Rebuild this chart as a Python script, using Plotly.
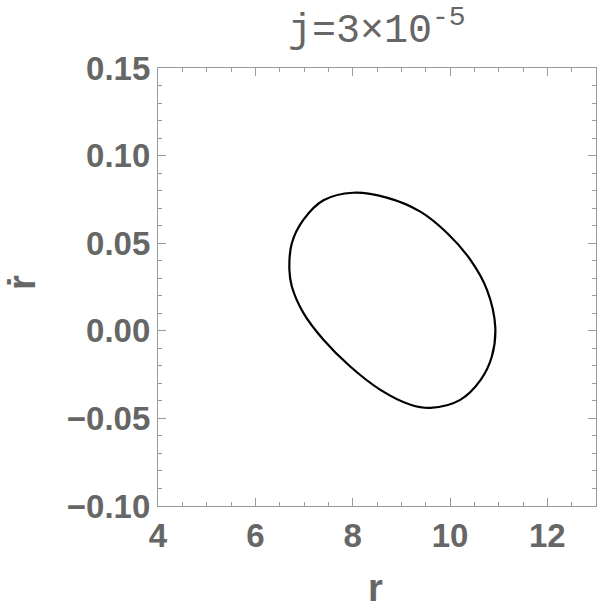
import plotly.graph_objects as go

# Orbit in phase space (r, r-dot)
r_vals = [8.01, 8.70, 9.39, 9.94, 10.42, 10.76, 10.93, 10.86, 10.63, 10.21, 9.60, 9.19,
          8.57, 7.95, 7.40, 6.99, 6.75, 6.70, 6.75, 6.99, 7.40, 8.01]
rdot_vals = [0.0788, 0.0760, 0.0680, 0.0558, 0.0405, 0.0234, 0.0023, -0.0147, -0.0280,
             -0.0394, -0.0440, -0.0422, -0.0337, -0.0204, -0.0051, 0.0101, 0.0253, 0.0348,
             0.0500, 0.0634, 0.0745, 0.0788]

x_ticks = [4, 6, 8, 10, 12]
x_tick_labels = ["4", "6", "8", "10", "12"]
y_ticks = [-0.10, -0.05, 0.00, 0.05, 0.10, 0.15]
y_tick_labels = ["\u22120.10", "\u22120.05", "0.00", "0.05", "0.10", "0.15"]

title_text = "j=3\u00d710<sup>-5</sup>"
x_title = "r"
y_title = "\u1e59"

W, H = 599, 612
L, T, Rr, Bb = 158, 68, 596, 506  # plot area in page pixels
pw, ph = Rr - L, Bb - T

def px_to_paper(px, py):
    return (px - L) / pw, (Bb - py) / ph

frame = "#9a9a9a"
txt = "#666666"

fig = go.Figure()
fig.add_trace(go.Scatter(x=r_vals, y=rdot_vals, mode="lines",
                         line=dict(color="black", width=2.2, shape="spline", smoothing=1.0),
                         hoverinfo="skip", showlegend=False))

axis_common = dict(showgrid=False, zeroline=False, showline=True, linecolor=frame, linewidth=1.2,
                   mirror="allticks", ticks="inside", ticklen=8, tickwidth=1.2, tickcolor=frame,
                   tickfont=dict(family="Liberation Sans", size=33, color=txt, weight="bold"))

fig.update_xaxes(range=[4, 13], tickvals=x_ticks, ticktext=x_tick_labels,
                 minor=dict(dtick=0.5, tick0=4, ticks="inside", ticklen=4, tickcolor=frame, tickwidth=1),
                 **axis_common)
fig.update_yaxes(range=[-0.10, 0.15], tickvals=y_ticks, ticktext=y_tick_labels,
                 minor=dict(dtick=0.01, tick0=0, ticks="inside", ticklen=4, tickcolor=frame, tickwidth=1),
                 **axis_common)

tx, ty = px_to_paper(377, 28)
xx, xy = px_to_paper(375, 588)
yx, yy = px_to_paper(22, 283)
annotations = [
    dict(text=title_text, xref="paper", yref="paper", x=tx, y=ty,
         xanchor="center", yanchor="middle", showarrow=False,
         font=dict(family="Liberation Mono", size=40, color=txt)),
    dict(text=x_title, xref="paper", yref="paper", x=xx, y=xy,
         xanchor="center", yanchor="middle", showarrow=False,
         font=dict(family="Liberation Sans", size=38, color=txt, weight="bold")),
    dict(text=y_title, xref="paper", yref="paper", x=yx, y=yy,
         xanchor="center", yanchor="middle", showarrow=False, textangle=-90,
         font=dict(family="Liberation Sans", size=38, color=txt, weight="bold")),
]

fig.update_layout(width=W, height=H, margin=dict(l=L, r=W - Rr, t=T, b=H - Bb, pad=0),
                  plot_bgcolor="white", paper_bgcolor="white", annotations=annotations)

fig.write_html("out.html", config={"displayModeBar": False},
               post_script="document.body.style.margin='0px';document.body.style.overflow='hidden';")
